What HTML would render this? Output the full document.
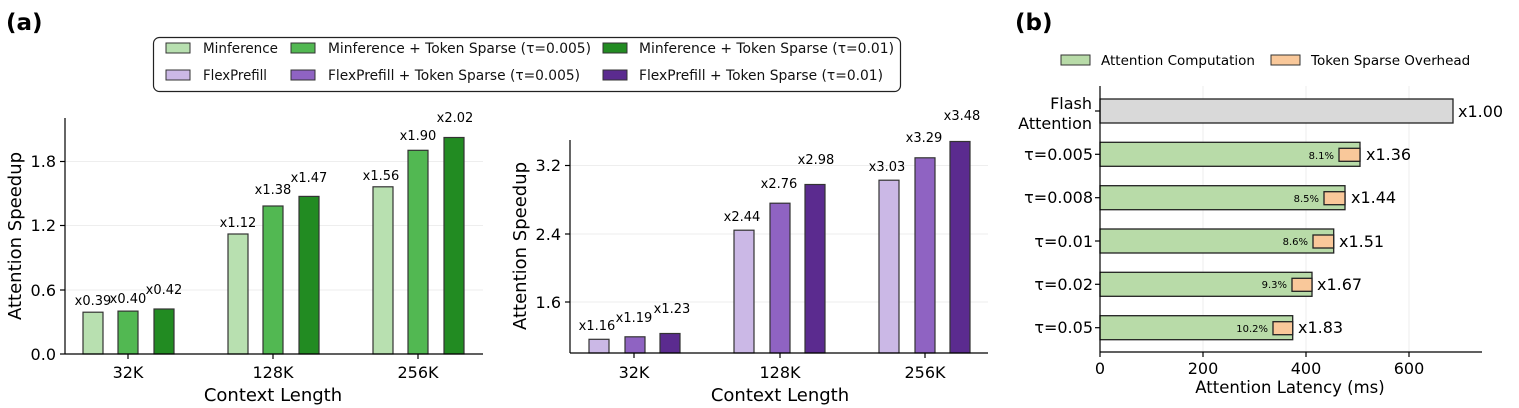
<!DOCTYPE html>
<html><head><meta charset="utf-8"><style>
html,body{margin:0;padding:0;background:#fff;}
svg{display:block;font-family:"DejaVu Sans","Liberation Sans",sans-serif;}
</style></head><body>
<svg width="1519" height="408" viewBox="0 0 1519 408" xmlns="http://www.w3.org/2000/svg">
<text x="6" y="30" font-size="23" font-weight="bold">(a)</text>
<text x="1015" y="30" font-size="23" font-weight="bold">(b)</text>

<!-- legend a -->
<rect x="153.5" y="37.5" width="747" height="54" rx="6" fill="#fff" stroke="#222" stroke-width="1.2"/>
<g stroke="#333" stroke-width="1">
<rect x="166" y="43" width="24" height="10" fill="#b8e0b0"/>
<rect x="291" y="43" width="24" height="10" fill="#52b852"/>
<rect x="603" y="43" width="24" height="10" fill="#228b22"/>
<rect x="166" y="70" width="24" height="10" fill="#cbb8e6"/>
<rect x="291" y="70" width="24" height="10" fill="#8f63c2"/>
<rect x="603" y="70" width="24" height="10" fill="#5b2b8f"/>
</g>
<g font-size="14" fill="#111" lengthAdjust="spacingAndGlyphs">
<text x="203" y="53" textLength="75" lengthAdjust="spacingAndGlyphs">Minference</text>
<text x="328" y="53" textLength="263" lengthAdjust="spacingAndGlyphs">Minference + Token Sparse (τ=0.005)</text>
<text x="639" y="53" textLength="255" lengthAdjust="spacingAndGlyphs">Minference + Token Sparse (τ=0.01)</text>
<text x="203" y="80" textLength="64" lengthAdjust="spacingAndGlyphs">FlexPrefill</text>
<text x="328" y="80" textLength="252" lengthAdjust="spacingAndGlyphs">FlexPrefill + Token Sparse (τ=0.005)</text>
<text x="639" y="80" textLength="244" lengthAdjust="spacingAndGlyphs">FlexPrefill + Token Sparse (τ=0.01)</text>
</g>

<!-- panel 1 -->
<g stroke="#eee" stroke-width="1">
<line x1="65" x2="483" y1="161.5" y2="161.5"/><line x1="65" x2="483" y1="225.5" y2="225.5"/><line x1="65" x2="483" y1="290" y2="290"/>
</g>
<g stroke="#333" stroke-width="1.2">
<rect x="83" y="312.2" width="20" height="41.8" fill="#b8e0b0"/>
<rect x="118" y="311.1" width="20" height="42.9" fill="#52b852"/>
<rect x="154" y="309" width="20" height="45" fill="#228b22"/>
<rect x="228" y="234" width="20" height="120" fill="#b8e0b0"/>
<rect x="263" y="206" width="20" height="148" fill="#52b852"/>
<rect x="299" y="196.4" width="20" height="157.6" fill="#228b22"/>
<rect x="373" y="186.8" width="20" height="167.2" fill="#b8e0b0"/>
<rect x="408" y="150.3" width="20" height="203.7" fill="#52b852"/>
<rect x="444" y="137.5" width="20" height="216.5" fill="#228b22"/>
</g>
<g stroke="#000" stroke-width="1.2"><line x1="65" y1="118" x2="65" y2="354"/><line x1="65" y1="354" x2="483" y2="354"/>
<line x1="60" x2="65" y1="161.5" y2="161.5"/><line x1="60" x2="65" y1="225.5" y2="225.5"/><line x1="60" x2="65" y1="290" y2="290"/><line x1="60" x2="65" y1="354" y2="354"/>
<line x1="128" x2="128" y1="354" y2="359"/><line x1="273" x2="273" y1="354" y2="359"/><line x1="418" x2="418" y1="354" y2="359"/></g>
<g font-size="16" text-anchor="end"><text x="56" y="167">1.8</text><text x="56" y="231">1.2</text><text x="56" y="296">0.6</text><text x="56" y="360">0.0</text></g>
<g font-size="16" text-anchor="middle"><text x="128" y="378">32K</text><text x="273" y="378">128K</text><text x="418" y="378">256K</text>
<text x="273" y="401" font-size="18">Context Length</text></g>
<text transform="translate(21,236) rotate(-90)" font-size="18" text-anchor="middle">Attention Speedup</text>
<g font-size="13" text-anchor="middle">
<text x="93" y="305">x0.39</text><text x="128" y="303">x0.40</text><text x="164" y="294">x0.42</text>
<text x="238" y="227">x1.12</text><text x="273" y="194">x1.38</text><text x="309" y="182">x1.47</text>
<text x="381" y="180">x1.56</text><text x="418" y="140">x1.90</text><text x="455" y="122">x2.02</text>
</g>

<!-- panel 2 -->
<g stroke="#eee" stroke-width="1">
<line x1="570" x2="988" y1="165.5" y2="165.5"/><line x1="570" x2="988" y1="234" y2="234"/><line x1="570" x2="988" y1="302" y2="302"/>
</g>
<g stroke="#333" stroke-width="1.2">
<rect x="589" y="339.3" width="20" height="13.7" fill="#cbb8e6"/>
<rect x="625" y="336.8" width="20" height="16.2" fill="#8f63c2"/>
<rect x="660" y="333.5" width="20" height="19.5" fill="#5b2b8f"/>
<rect x="734" y="230.2" width="20" height="122.8" fill="#cbb8e6"/>
<rect x="770" y="203.2" width="20" height="149.8" fill="#8f63c2"/>
<rect x="805" y="184.5" width="20" height="168.5" fill="#5b2b8f"/>
<rect x="879" y="180.2" width="20" height="172.8" fill="#cbb8e6"/>
<rect x="915" y="157.8" width="20" height="195.2" fill="#8f63c2"/>
<rect x="950" y="141.5" width="20" height="211.5" fill="#5b2b8f"/>
</g>
<g stroke="#000" stroke-width="1.2"><line x1="570" y1="140" x2="570" y2="353"/><line x1="570" y1="353" x2="988" y2="353"/>
<line x1="565" x2="570" y1="165.5" y2="165.5"/><line x1="565" x2="570" y1="234" y2="234"/><line x1="565" x2="570" y1="302" y2="302"/>
<line x1="634" x2="634" y1="353" y2="358"/><line x1="780" x2="780" y1="353" y2="358"/><line x1="925" x2="925" y1="353" y2="358"/></g>
<g font-size="16" text-anchor="end"><text x="561" y="171">3.2</text><text x="561" y="240">2.4</text><text x="561" y="308">1.6</text></g>
<g font-size="16" text-anchor="middle"><text x="634" y="378">32K</text><text x="780" y="378">128K</text><text x="925" y="378">256K</text>
<text x="780" y="401" font-size="18">Context Length</text></g>
<text transform="translate(526,246) rotate(-90)" font-size="18" text-anchor="middle">Attention Speedup</text>
<g font-size="13" text-anchor="middle">
<text x="597" y="330">x1.16</text><text x="634" y="322">x1.19</text><text x="672" y="313">x1.23</text>
<text x="742" y="221">x2.44</text><text x="779" y="188">x2.76</text><text x="816" y="164">x2.98</text>
<text x="887" y="171">x3.03</text><text x="924" y="142">x3.29</text><text x="962" y="120">x3.48</text>
</g>

<!-- panel b -->
<g stroke="#333" stroke-width="1">
<rect x="1061" y="55" width="29" height="10" fill="#b8dba8"/>
<rect x="1271" y="55" width="29" height="10" fill="#f9c89a"/>
</g>
<g font-size="13.5"><text x="1101" y="65">Attention Computation</text><text x="1311" y="65">Token Sparse Overhead</text></g>
<g stroke="#eee" stroke-width="1"><line x1="1203" x2="1203" y1="86" y2="352"/><line x1="1306" x2="1306" y1="86" y2="352"/><line x1="1409" x2="1409" y1="86" y2="352"/></g>
<g stroke="#222" stroke-width="1.3">
<rect x="1100" y="99" width="353" height="24" fill="#d9d9d9"/>
<rect x="1100" y="142.3" width="260" height="24" fill="#b8dba8"/>
<rect x="1339" y="148.3" width="21" height="13" fill="#f9c89a"/>
<rect x="1100" y="185.7" width="245" height="24" fill="#b8dba8"/>
<rect x="1324" y="191.7" width="21" height="13" fill="#f9c89a"/>
<rect x="1100" y="229" width="233.7" height="24" fill="#b8dba8"/>
<rect x="1313" y="235" width="20.7" height="13" fill="#f9c89a"/>
<rect x="1100" y="272.3" width="212" height="24" fill="#b8dba8"/>
<rect x="1292" y="278.3" width="20" height="13" fill="#f9c89a"/>
<rect x="1100" y="315.7" width="192.7" height="24" fill="#b8dba8"/>
<rect x="1273" y="321.7" width="19.7" height="13" fill="#f9c89a"/>
</g>
<g stroke="#000" stroke-width="1.2"><line x1="1100" y1="86" x2="1100" y2="352"/><line x1="1100" y1="352" x2="1482" y2="352"/>
<line x1="1100" x2="1100" y1="352" y2="357"/><line x1="1203" x2="1203" y1="352" y2="357"/><line x1="1306" x2="1306" y1="352" y2="357"/><line x1="1409" x2="1409" y1="352" y2="357"/>
<line x1="1095" x2="1100" y1="111" y2="111"/><line x1="1095" x2="1100" y1="154.3" y2="154.3"/><line x1="1095" x2="1100" y1="197.7" y2="197.7"/><line x1="1095" x2="1100" y1="241" y2="241"/><line x1="1095" x2="1100" y1="284.3" y2="284.3"/><line x1="1095" x2="1100" y1="327.7" y2="327.7"/></g>
<g font-size="16" text-anchor="end">
<text x="1092" y="109">Flash</text><text x="1092" y="129">Attention</text>
<text x="1093" y="160">τ=0.005</text><text x="1093" y="203">τ=0.008</text><text x="1093" y="247">τ=0.01</text><text x="1093" y="290">τ=0.02</text><text x="1093" y="333">τ=0.05</text>
</g>
<g font-size="16" text-anchor="middle"><text x="1100" y="374">0</text><text x="1203" y="374">200</text><text x="1306" y="374">400</text><text x="1409" y="374">600</text>
<text x="1290" y="393" font-size="16.5">Attention Latency (ms)</text></g>
<g font-size="16"><text x="1458" y="117">x1.00</text><text x="1366" y="160">x1.36</text><text x="1351" y="203">x1.44</text><text x="1339" y="247">x1.51</text><text x="1317" y="290">x1.67</text><text x="1298" y="333">x1.83</text></g>
<g font-size="10" text-anchor="end"><text x="1334" y="159">8.1%</text><text x="1319" y="202">8.5%</text><text x="1308" y="245">8.6%</text><text x="1287" y="288">9.3%</text><text x="1268" y="332">10.2%</text></g>
</svg>
</body></html>
